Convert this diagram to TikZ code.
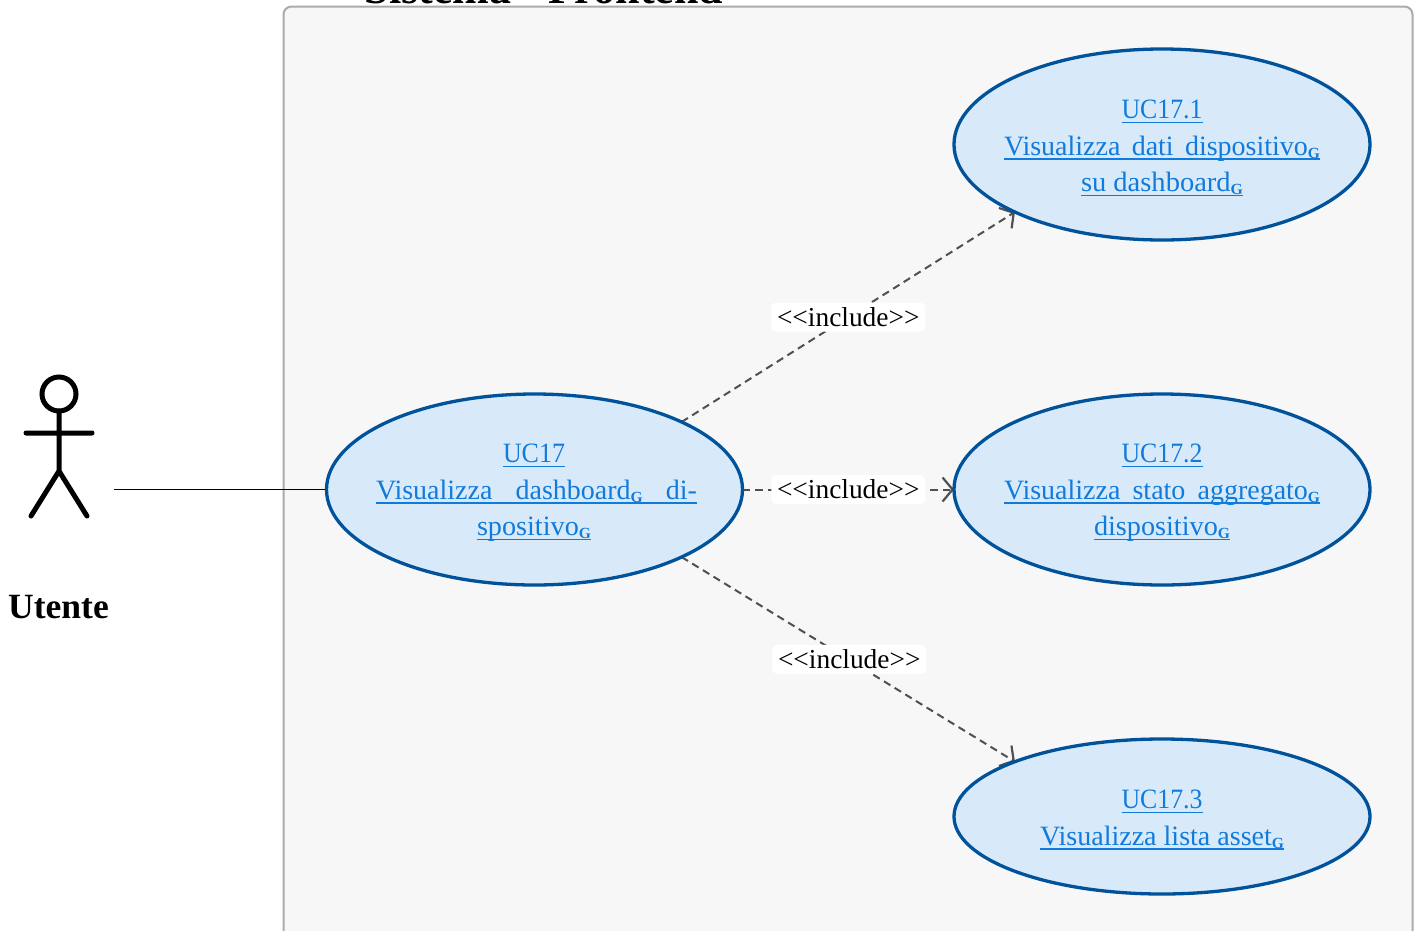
\documentclass[tikz,border=0pt]{standalone}
\usepackage{fontspec}
\usepackage{graphicx}
\setmainfont{Liberation Serif}
\usetikzlibrary{shapes.geometric,arrows.meta,backgrounds}
\definecolor{ucfill}{HTML}{D8EAF9}
\definecolor{ucline}{HTML}{00529B}
\definecolor{uctext}{HTML}{117BDC}
\definecolor{sysfill}{HTML}{F7F7F7}
\definecolor{sysline}{HTML}{ABABAB}
\definecolor{dep}{HTML}{505050}
\newcommand\glosG{\raisebox{-3pt}{\fontsize{15.5}{16}\selectfont\bfseries G}}
\newcommand\lkrule[1]{\leavevmode\rlap{\rule[-4.5pt]{#1}{1.3pt}}}
\newcommand\lkfit[2]{\lkrule{#1}\resizebox{#1}{\height}{#2}}
\newcommand\lkjust[2]{\lkrule{#1}\makebox[#1][s]{#2}}
\newcommand\inc{<{}<include>{}>}
\tikzset{
  x=1pt,y=1pt,
  usecase/.style={ellipse,draw=ucline,fill=ucfill,line width=3.3pt,minimum width=416pt,inner sep=0pt,outer sep=0pt},
  uclabel/.style={text=uctext,align=center,inner sep=0pt,font=\fontsize{28}{36.5}\selectfont},
  includeedge/.style={draw=dep,line width=2pt,dash pattern=on 7.5pt off 5pt,-{Straight Barb[length=10pt,width=24pt,line width=2.2pt]}},
  includelabel/.style={fill=white,rounded corners=5pt,minimum width=154pt,minimum height=29pt,inner sep=0pt,text=black,font=\fontsize{27.4}{29}\selectfont},
  stick/.style={line width=5pt,line cap=round,black},
}
\begin{document}
\begin{tikzpicture}
\useasboundingbox (0,0) rectangle (1416,-930);
% use cases
\node[usecase,minimum height=191pt] (uc17) at (534.5,-489.5) {};
\node[usecase,minimum height=191pt] (uc171) at (1162,-144.5) {};
\node[usecase,minimum height=191pt] (uc172) at (1162,-489.5) {};
\node[usecase,minimum height=155pt] (uc173) at (1162,-816.5) {};
\node[uclabel] (t17) at (534,-493) {\lkfit{62pt}{UC17}\\\hspace*{5pt}\lkjust{321pt}{Visualizza dashboard\glosG{} di-}\\\lkfit{114pt}{spositivo\glosG}};
\node[uclabel] (t171) at (1162,-148) {\lkfit{81pt}{UC17.1}\\\lkjust{316pt}{Visualizza dati dispositivo\glosG}\\\lkfit{162pt}{su dashboard\glosG}};
\node[uclabel] (t172) at (1162,-493) {\lkfit{81pt}{UC17.2}\\\lkjust{316pt}{Visualizza stato aggregato\glosG}\\\lkfit{136pt}{dispositivo\glosG}};
\node[uclabel] (t173) at (1162,-820) {\lkfit{81pt}{UC17.3}\\\lkfit{244pt}{Visualizza lista asset\glosG}};
% actor
\coordinate (head) at (59,-394);
\coordinate (neck) at (59,-411);
\coordinate (hip) at (59,-471);
\coordinate (armL) at (26,-433);
\coordinate (armR) at (92,-433);
\coordinate (legL) at (31,-516);
\coordinate (legR) at (87,-516);
\coordinate (actor) at (114,-489.5);
\draw[stick] (head) circle[radius=17pt];
\draw[stick] (neck) -- (hip) (armL) -- (armR) (legL) -- (hip) -- (legR);
\node[font=\fontsize{35.5}{38}\selectfont\bfseries,inner sep=0pt,anchor=base] (utente) at (58.5,-618) {Utente};
\begin{scope}[on background layer]
  \draw[sysline,fill=sysfill,line width=2pt,rounded corners=8pt] (283.5,-6.5) rectangle (1412.5,-980);
  \node[font=\fontsize{44}{46}\selectfont\bfseries,inner sep=0pt,anchor=base] (title) at (544,-3) {Sistema - Frontend};
  \draw[black,line width=1.4pt] (actor) -- (uc17.west);
  \draw[includeedge] (uc17.north east) -- node[includelabel,solid] (l1) {\inc} (uc171.south west);
  \draw[includeedge] (uc17.east) -- node[includelabel,solid] (l2) {\inc} (uc172.west);
  \draw[includeedge] (uc17.south east) -- node[includelabel,solid,xshift=1pt] (l3) {\inc} (uc173.north west);
\end{scope}
\end{tikzpicture}
\end{document}
